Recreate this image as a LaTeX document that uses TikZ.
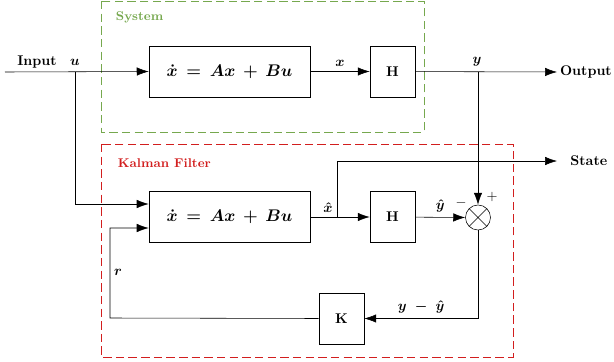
\documentclass[tikz,border=0pt]{standalone}
\usepackage{tikz}
\usetikzlibrary{arrows.meta,calc}
\definecolor{sysgreen}{RGB}{118,168,78}
\definecolor{kfred}{RGB}{210,30,30}

\begin{document}
\begin{tikzpicture}[x=0.025cm,y=-0.025cm,>={Latex[length=8.5pt,width=6pt]},
  every node/.style={font=\boldmath\bfseries},
  block/.style={draw,minimum height=1.275cm,inner sep=0pt},
  eqn/.style={block,minimum width=4.025cm,font=\large\boldmath\bfseries},
  frame/.style={line width=0.6pt,dash pattern=on 6pt off 3pt}]
\useasboundingbox (0,0) rectangle (614,362);
%frames
\draw[frame,sysgreen] (101,1) rectangle (424,132);
\node[sysgreen,font=\small\bfseries,anchor=west] (systxt) at (111,17) {System};
\draw[frame,kfred] (101,144) rectangle (513,357);
\node[kfred,font=\small\bfseries,anchor=west] (kftxt) at (113,163) {Kalman Filter};
%blocks
\node[eqn] (sys) at (229.5,71.5) {$\dot{x}\,=\,Ax\,+\,Bu$};
\node[block,minimum width=1.125cm] (hsys) at (392.5,71.5) {H};
\node[eqn] (kf) at (229.5,217) {$\dot{x}\,=\,Ax\,+\,Bu$};
\node[block,minimum width=1.125cm] (hkf) at (392.5,217) {H};
\node[block,minimum width=1.125cm] (gain) at (341.5,318.5) {K};
\node[draw,circle,minimum size=0.625cm,inner sep=0pt] (sum) at (478,217.5) {};
\draw (sum.45) -- (sum.225) (sum.135) -- (sum.315);
%points
\coordinate (in) at (5,72);
\coordinate (ubr) at (75,72);
\coordinate (ybr) at (478,72);
\coordinate (out) at (557,72);
\coordinate (xbr) at (337,217);
\coordinate (st) at (557,161);
\coordinate (rbr) at (110,318);
% system side
\draw[->] (in) -- (sys.west);
\node (intxt) at (37,62) {Input};
\node (utxt) at (75,62) {$u$};
\draw[->] (sys) -- (hsys) node[midway,above] {$x$};
\draw[->] (hsys) -- (out) node[right,inner sep=2pt] (outtxt) {Output};
\node (ytxt) at (477,62) {$y$};
\draw[->] (ybr) -- (sum.north);
% filter side
\draw[->] (ubr) |- ($(kf.west)+(0,-13)$);
\draw[->] (kf) -- (hkf) node[pos=0.3,above] {$\hat{x}$};
\draw[->] (xbr) |- (st) node[right,xshift=6pt] (sttxt) {State};
\draw[->] (hkf) -- (sum.west) node[midway,above] {$\hat{y}$};
\node[font=\unboldmath] (minus) at (461,203) {$-$};
\node[font=\unboldmath] (plus) at (492,197) {$+$};
\draw[->] (sum.south) |- (gain.east) node[pos=0.75,above] {$y\;-\;\hat{y}$};
\draw[->] (gain.west) -- (rbr) |- ($(kf.west)+(0,11)$);
\node (rtxt) at (118,272) {$r$};
\end{tikzpicture}
\end{document}
